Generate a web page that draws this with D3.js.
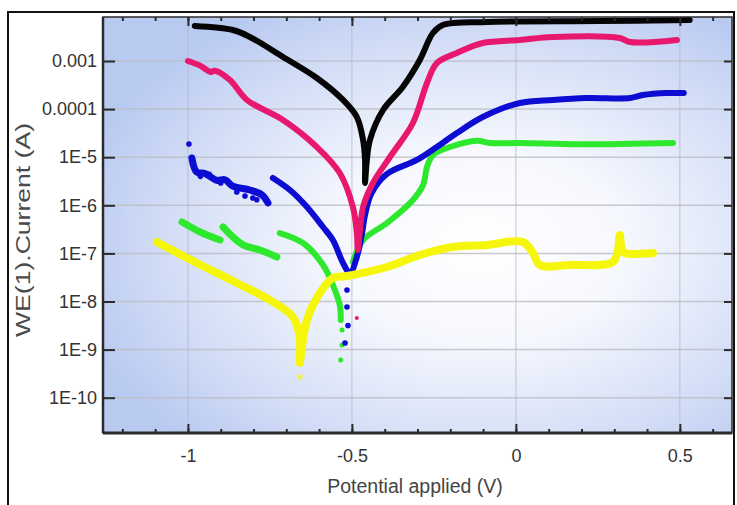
<!DOCTYPE html>
<html>
<head>
<meta charset="utf-8">
<script src="https://cdn.jsdelivr.net/npm/d3@7"></script>
<style>
  html, body { margin: 0; padding: 0; background: #fff; }
  svg { display: block; font-family: "Liberation Sans", Arial, sans-serif; }
</style>
</head>
<body>
<svg id="chart" width="737" height="505"></svg>
<script>
// ---------------- DATA ----------------
const xTickValues = [-1, -0.5, 0, 0.5];
const xTickLabels = ["-1", "-0.5", "0", "0.5"];
const yTickValues = [1e-3, 1e-4, 1e-5, 1e-6, 1e-7, 1e-8, 1e-9, 1e-10];
const yTickLabels = ["0.001", "0.0001", "1E-5", "1E-6", "1E-7", "1E-8", "1E-9", "1E-10"];
const xTitle = "Potential applied (V)";
const yTitle = "WE(1).Current (A)";

// Black curve
const blackV = [-0.979, -0.863, -0.811, -0.710, -0.607, -0.527, -0.485, -0.466, -0.460, -0.460, -0.455, -0.445, -0.405, -0.345, -0.293, -0.253, -0.223, -0.088, 0.256, 0.530];
const blackI = [5.35e-3, 4.41e-3, 3.16e-3, 1.21e-3, 4.44e-4, 1.55e-4, 6.85e-5, 2.28e-5, 8.75e-6, 2.91e-6, 7.9e-6, 2.28e-5, 9.57e-5, 2.88e-4, 1.05e-3, 3.82e-3, 5.60e-3, 6.47e-3, 6.79e-3, 7.11e-3];

// Pink curve
const pinkV = [-1.0, -0.963, -0.930, -0.918, -0.872, -0.820, -0.710, -0.607, -0.537, -0.497, -0.485, -0.482, -0.466, -0.436, -0.384, -0.314, -0.271, -0.241, -0.180, -0.101, 0.012, 0.113, 0.317, 0.348, 0.491];
const pinkI = [1.00e-3, 8.0e-4, 5.9e-4, 6.3e-4, 4.03e-4, 1.55e-4, 5.93e-5, 1.63e-5, 4.70e-6, 9.23e-7, 2.65e-7, 1.18e-7, 9.23e-7, 2.91e-6, 1.01e-5, 5.14e-5, 3.49e-4, 9.08e-4, 1.47e-3, 2.37e-3, 2.74e-3, 3.16e-3, 3.01e-3, 2.48e-3, 2.74e-3];
const pinkDotV = [-0.485];
const pinkDotI = [4.54e-9];

// Blue curve (noisy first part, then main branch)
const blue1V = [-0.988, -0.973, -0.948, -0.912, -0.887, -0.863, -0.811, -0.774, -0.756];
const blue1I = [9.62e-6, 4.90e-6, 4.60e-6, 3.30e-6, 3.40e-6, 2.50e-6, 2.08e-6, 1.64e-6, 1.12e-6];
const blue2V = [-0.741, -0.689, -0.637, -0.588, -0.558, -0.527, -0.506, -0.485, -0.470, -0.460, -0.440, -0.393, -0.302, -0.241, -0.180, -0.101, 0.012, 0.113, 0.216, 0.348, 0.387, 0.460, 0.512];
const blue2I = [3.70e-6, 2.08e-6, 9.23e-7, 3.54e-7, 1.90e-7, 6.31e-8, 3.91e-8, 8.41e-8, 2.42e-7, 6.28e-7, 1.8e-6, 4.50e-6, 8.75e-6, 1.63e-5, 3.18e-5, 6.85e-5, 1.34e-4, 1.55e-4, 1.70e-4, 1.70e-4, 1.96e-4, 2.16e-4, 2.16e-4];
const blueDotV = [-0.997, -0.985, -0.962, -0.935, -0.900, -0.851, -0.826, -0.802, -0.790, -0.515, -0.512, -0.515, -0.521];
const blueDotI = [1.88e-5, 7.0e-6, 4.0e-6, 4.4e-6, 2.9e-6, 1.89e-6, 1.56e-6, 1.42e-6, 1.30e-6, 1.73e-8, 3.16e-9, 7.69e-9, 1.37e-9];

// Green curve (three cathodic pieces, anodic branch)
const green1V = [-1.018, -0.963, -0.902];
const green1I = [4.50e-7, 2.79e-7, 1.90e-7];
const green2V = [-0.893, -0.832, -0.780, -0.729];
const green2I = [3.54e-7, 1.50e-7, 1.18e-7, 8.41e-8];
const green3V = [-0.720, -0.649, -0.588, -0.558, -0.537, -0.534];
const green3I = [2.65e-7, 1.64e-7, 5.74e-8, 2.20e-8, 8.45e-9, 4.12e-9];
const green4V = [-0.497, -0.466, -0.393, -0.314, -0.283, -0.271, -0.253, -0.201, -0.119, -0.079, 0.012, 0.195, 0.479];
const green4I = [6.62e-8, 1.90e-7, 4.29e-7, 1.29e-6, 2.64e-6, 6.25e-6, 1.11e-5, 1.63e-5, 2.20e-5, 1.97e-5, 1.97e-5, 1.85e-5, 1.97e-5];
const greenDotV = [-0.530, -0.530, -0.534];
const greenDotI = [2.55e-9, 1.25e-9, 6.08e-10];

// Yellow curve
const yellowV = [-1.095, -0.973, -0.851, -0.750, -0.680, -0.659, -0.659, -0.652, -0.637, -0.598, -0.558, -0.515, -0.393, -0.293, -0.192, -0.088, 0.021, 0.052, 0.073, 0.165, 0.296, 0.311, 0.317, 0.323, 0.332, 0.418];
const yellowI = [1.73e-7, 6.31e-8, 2.43e-8, 1.07e-8, 4.76e-9, 1.83e-9, 5.26e-10, 1.2e-9, 4.12e-9, 1.50e-8, 3.08e-8, 3.39e-8, 5.21e-8, 9.27e-8, 1.36e-7, 1.50e-7, 1.73e-7, 1.02e-7, 5.74e-8, 5.74e-8, 6.62e-8, 1.18e-7, 2.42e-7, 1.18e-7, 1.02e-7, 1.02e-7];
const yellowDotV = [-0.659];
const yellowDotI = [2.69e-10];

// ---------------- CHART ----------------
const svg = d3.select("#chart");
const plot = { left: 103, top: 17, right: 732, bottom: 433 };

const x = d3.scaleLinear().domain([-1.259, 0.659]).range([plot.left, plot.right]);
const y = d3.scaleLog().domain([1.845e-11, 8.22e-3]).range([plot.bottom, plot.top]);

const defs = svg.append("defs");
const grad = defs.append("radialGradient").attr("id", "bg")
  .attr("cx", 0.6).attr("cy", 0.55).attr("r", 0.66).attr("fx", 0.6).attr("fy", 0.55);
grad.append("stop").attr("offset", 0).attr("stop-color", "#ffffff");
grad.append("stop").attr("offset", 0.35).attr("stop-color", "#f6f8fe");
grad.append("stop").attr("offset", 0.75).attr("stop-color", "#d3ddf6");
grad.append("stop").attr("offset", 1).attr("stop-color", "#b9caf1");
defs.append("clipPath").attr("id", "clip").append("rect")
  .attr("x", plot.left).attr("y", plot.top)
  .attr("width", plot.right - plot.left).attr("height", plot.bottom - plot.top);

// outer frame
svg.append("rect").attr("x", 8).attr("y", 12).attr("width", 726).attr("height", 520)
  .attr("fill", "#fff").attr("stroke", "#111").attr("stroke-width", 2);

// plot background
svg.append("rect").attr("x", plot.left).attr("y", plot.top)
  .attr("width", plot.right - plot.left).attr("height", plot.bottom - plot.top)
  .attr("fill", "url(#bg)");

// grid
const grid = svg.append("g");
grid.selectAll("line.h").data(yTickValues).join("line")
  .attr("x1", plot.left).attr("x2", plot.right)
  .attr("y1", d => y(d)).attr("y2", d => y(d))
  .attr("stroke", "#bdbdc4").attr("stroke-width", 1.5).attr("opacity", 0.8);
grid.selectAll("line.v").data(xTickValues).join("line")
  .attr("x1", d => x(d)).attr("x2", d => x(d))
  .attr("y1", plot.top).attr("y2", plot.bottom)
  .attr("stroke", "#b8b8c4").attr("stroke-width", 1).attr("opacity", 0.8);

// curves
const line = d3.line().x(d => x(d[0])).y(d => y(d[1])).curve(d3.curveCatmullRom.alpha(0.5));
const zip = (a, b) => a.map((v, i) => [v, b[i]]);
const gCurves = svg.append("g").attr("clip-path", "url(#clip)");

function drawSeg(V, I, color, width) {
  gCurves.append("path").datum(zip(V, I)).attr("d", line)
    .attr("fill", "none").attr("stroke", color).attr("stroke-width", width)
    .attr("stroke-linecap", "round").attr("stroke-linejoin", "round");
}
function drawDots(V, I, color, r) {
  gCurves.append("g").selectAll("circle").data(zip(V, I)).join("circle")
    .attr("cx", d => x(d[0])).attr("cy", d => y(d[1])).attr("r", r).attr("fill", color);
}

const cGreen = "#2ee82e", cBlue = "#0c0cd2", cPink = "#e8186f", cBlack = "#050505", cYellow = "#f6f60c";

drawSeg(green1V, green1I, cGreen, 7);
drawSeg(green2V, green2I, cGreen, 7);
drawSeg(green3V, green3I, cGreen, 6);
drawSeg(green4V, green4I, cGreen, 6);
drawDots(greenDotV, greenDotI, cGreen, 2.5);

drawSeg(blue1V, blue1I, cBlue, 7);
drawSeg(blue2V, blue2I, cBlue, 6);
drawDots(blueDotV, blueDotI, cBlue, 2.8);

drawSeg(pinkV, pinkI, cPink, 6);
drawDots(pinkDotV, pinkDotI, cPink, 2);

drawSeg(blackV, blackI, cBlack, 6);

drawSeg(yellowV, yellowI, cYellow, 8);
drawDots(yellowDotV, yellowDotI, "#eeee66", 3);

// axes
const axColor = "#2a2a2a";
const minorX = d3.range(-12, 7).map(d => d / 10);

function styleAxis(g) {
  g.select(".domain").remove();
  g.selectAll(".tick line").attr("stroke", axColor).attr("stroke-width", 2);
  g.selectAll("text").attr("fill", "#333").attr("font-size", 18)
    .attr("font-family", "'Liberation Sans', Arial, sans-serif");
}

svg.append("g").attr("transform", `translate(0,${plot.bottom})`)
  .call(d3.axisBottom(x).tickValues(minorX).tickSize(-4).tickFormat(""))
  .call(styleAxis);
svg.append("g").attr("transform", `translate(0,${plot.bottom})`)
  .call(d3.axisBottom(x).tickValues(xTickValues).tickSize(-9).tickPadding(16)
    .tickFormat((d, i) => xTickLabels[i]))
  .call(styleAxis);
svg.append("g").attr("transform", `translate(0,${plot.top})`)
  .call(d3.axisTop(x).tickValues(minorX).tickSize(-4).tickFormat(""))
  .call(styleAxis);
svg.append("g").attr("transform", `translate(0,${plot.top})`)
  .call(d3.axisTop(x).tickValues(xTickValues).tickSize(-9).tickFormat(""))
  .call(styleAxis);
svg.append("g").attr("transform", `translate(${plot.left},0)`)
  .call(d3.axisLeft(y).tickValues(yTickValues).tickSize(-12).tickPadding(6)
    .tickFormat((d, i) => yTickLabels[i]))
  .call(styleAxis);
svg.append("g").attr("transform", `translate(${plot.right},0)`)
  .call(d3.axisRight(y).tickValues(yTickValues).tickSize(-8).tickFormat(""))
  .call(styleAxis);

// plot frame
svg.append("rect").attr("x", plot.left).attr("y", plot.top)
  .attr("width", plot.right - plot.left).attr("height", plot.bottom - plot.top)
  .attr("fill", "none").attr("stroke", axColor).attr("stroke-width", 1.5);
svg.append("line").attr("x1", plot.left).attr("x2", plot.right)
  .attr("y1", plot.bottom).attr("y2", plot.bottom)
  .attr("stroke", axColor).attr("stroke-width", 3);
svg.append("line").attr("x1", plot.left).attr("x2", plot.left)
  .attr("y1", plot.top).attr("y2", plot.bottom)
  .attr("stroke", axColor).attr("stroke-width", 2.5);

// titles
svg.append("text").attr("x", 415).attr("y", 488)
  .attr("text-anchor", "middle").attr("dominant-baseline", "middle")
  .attr("font-size", 19.5).attr("fill", "#444").text(xTitle);
svg.append("text").attr("transform", "translate(25,230) rotate(-90)")
  .attr("text-anchor", "middle").attr("dominant-baseline", "middle")
  .attr("font-size", 20).attr("fill", "#4a4a4a")
  .attr("textLength", 214).attr("lengthAdjust", "spacingAndGlyphs")
  .text(yTitle);
</script>
</body>
</html>
